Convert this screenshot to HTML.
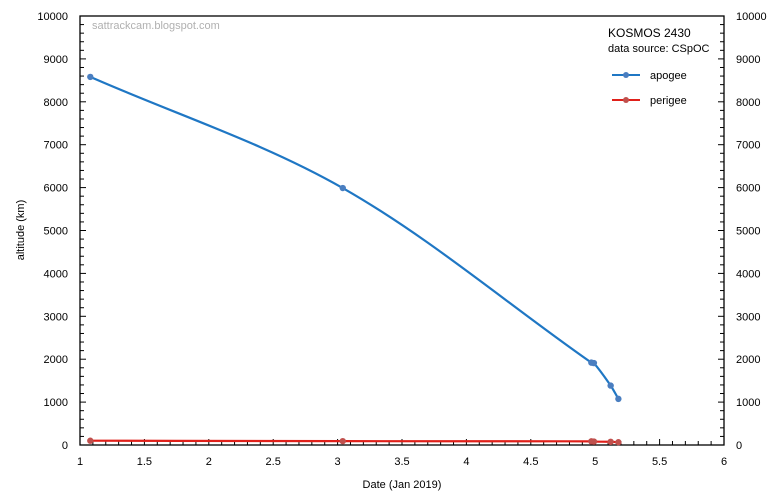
<!DOCTYPE html>
<html><head><meta charset="utf-8"><style>
body{margin:0;background:#fff;font-family:"Liberation Sans","DejaVu Sans",sans-serif;}
svg text{font-family:"Liberation Sans","DejaVu Sans",sans-serif;}
</style></head><body>
<svg id="chart" width="773" height="498" xmlns="http://www.w3.org/2000/svg">
<rect width="773" height="498" fill="#fff"/>
<g id="axes"></g>
<g id="series"></g>
<text x="92" y="29" font-size="11" fill="#b0b0b0">sattrackcam.blogspot.com</text>
<text x="608" y="37" font-size="12" fill="#000">KOSMOS 2430</text>
<text x="608" y="52" font-size="11" fill="#000">data source: CSpOC</text>
<g>
<line x1="612" y1="75" x2="640" y2="75" stroke="#1f77c4" stroke-width="2"/><circle cx="626" cy="75" r="3" fill="#4a7ec0"/>
<text x="650" y="79" font-size="11">apogee</text></g>
<g>
<line x1="612" y1="100" x2="640" y2="100" stroke="#e0201a" stroke-width="2"/><circle cx="626" cy="100" r="3" fill="#c0504d"/>
<text x="650" y="104" font-size="11">perigee</text></g>
<text x="402" y="488" font-size="11" text-anchor="middle">Date (Jan 2019)</text>
<text transform="translate(24,230) rotate(-90)" font-size="11" text-anchor="middle">altitude (km)</text>
</svg>
<script>
const dates=[1.08,3.04,4.97,4.99,5.12,5.18];
const apogee=[8580,5990,1920,1910,1385,1075];
const perigee=[100,90,85,80,75,65];
const xTicks=[1,1.5,2,2.5,3,3.5,4,4.5,5,5.5,6];
const yTicks=[0,1000,2000,3000,4000,5000,6000,7000,8000,9000,10000];
const L=80,R=724,T=16,B=445;
const sx=v=>L+(v-1)/5*(R-L);
const sy=v=>B-v/10000*(B-T);
const NS="http://www.w3.org/2000/svg";
const ax=document.getElementById('axes'),sr=document.getElementById('series');
function mk(tag,at,parent){const e=document.createElementNS(NS,tag);for(const k in at)e.setAttribute(k,at[k]);parent.appendChild(e);return e;}
const frame=mk('rect',{x:L,y:T,width:R-L,height:B-T,fill:'none',stroke:'#000','stroke-width':1.3},ax);


for(let v=0;v<=10000;v+=200){const y=sy(v);const len=v%1000===0?6:4;
mk('line',{x1:L,y1:y,x2:L+len,y2:y,stroke:'#000'},ax);mk('line',{x1:R,y1:y,x2:R-len,y2:y,stroke:'#000'},ax);}
for(let i=0;i<=50;i++){const x=sx(1+i*0.1);const len=i%5===0?6:4;mk('line',{x1:x,y1:B,x2:x,y2:B-len,stroke:'#000'},ax);}
yTicks.forEach(v=>{
const t=mk('text',{x:L-12,y:sy(v)+4,'font-size':11,'text-anchor':'end'},ax);t.textContent=v;


const t2=mk('text',{x:R+12,y:sy(v)+4,'font-size':11},ax);t2.textContent=v;

});
xTicks.forEach(v=>{const t=mk('text',{x:sx(v),y:B+20,'font-size':11,'text-anchor':'middle'},ax);t.textContent=v;

});
function tangent(pts,i){const a=pts[Math.max(0,i-1)],b=pts[Math.min(pts.length-1,i+1)];
const dx=b[0]-a[0],dy=b[1]-a[1],l=Math.hypot(dx,dy)||1;return [dx/l,dy/l];}
function smooth(pts){let d=`M${pts[0][0]},${pts[0][1]}`;
for(let i=0;i<pts.length-1;i++){const p1=pts[i],p2=pts[i+1];const s=Math.hypot(p2[0]-p1[0],p2[1]-p1[1])/3;
const t1=tangent(pts,i),t2=tangent(pts,i+1);
const c1=[p1[0]+t1[0]*s,p1[1]+t1[1]*s],c2=[p2[0]-t2[0]*s,p2[1]-t2[1]*s];
d+=` C${c1[0]},${c1[1]} ${c2[0]},${c2[1]} ${p2[0]},${p2[1]}`;}return d;}
function series(vals,line,dot,name){
const pts=dates.map((d,i)=>[sx(d),sy(vals[i])]);
const p=mk('path',{d:smooth(pts),fill:'none',stroke:line,'stroke-width':2.2},sr);


pts.forEach(q=>{const c=mk('circle',{cx:q[0],cy:q[1],r:3.2,fill:dot},sr);

});}
series(perigee,'#e0201a','#c0504d','perigee');
series(apogee,'#1f77c4','#4a7ec0','apogee');
</script>
</body></html>
